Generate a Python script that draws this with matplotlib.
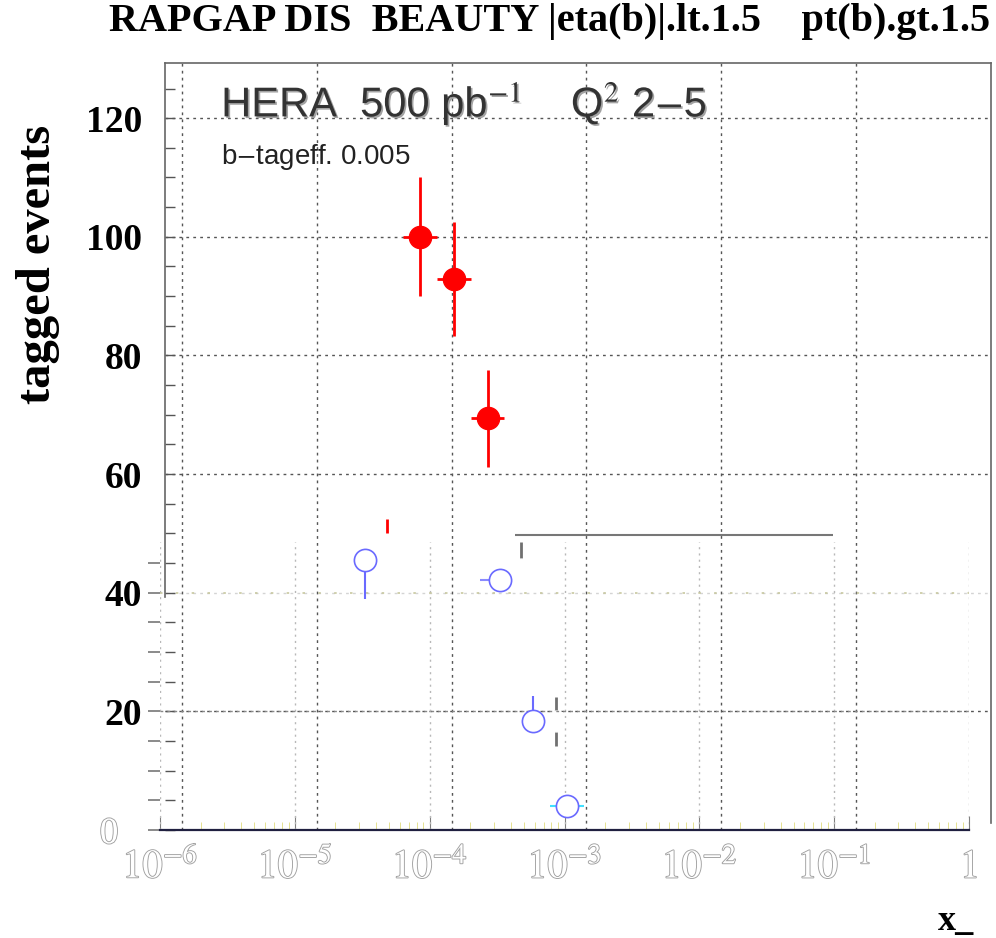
import numpy as np
import matplotlib.pyplot as plt
from matplotlib import patheffects as pe

# tagged events, main sample (filled red)
red_x = [5.83e-5, 1.04e-4, 1.85e-4]
red_y = [100.0, 92.9, 69.4]
red_err = [10.0, 9.6, 8.2]
red_tail_x = [3.32e-5]
red_tail_lo = [50.0]
red_tail_hi = [52.4]

# second sample (open blue)
blue_x = [3.32e-5, 3.33e-4, 5.85e-4, 1.04e-3]
blue_y = [45.6, 42.2, 18.3, 4.1]
blue_err_lo = [6.6, 0.0, 0.0, 0.0]
blue_err_hi = [0.0, 0.0, 4.3, 0.0]

# leftover gray error bars
gray_x = [3.27e-4, 5.95e-4]
gray_y = [44.0, 18.3]
gray_err_lo = [0.0, 4.1]
gray_err_hi = [4.6, 4.1]
gray_line_y = 49.7
gray_line_x = [4.3e-4, 9.8e-2]

xtick_vals = [1e-6, 1e-5, 1e-4, 1e-3, 1e-2, 1e-1, 1]
xtick_labels = ['$10^{-6}$', '$10^{-5}$', '$10^{-4}$', '$10^{-3}$',
                '$10^{-2}$', '$10^{-1}$', '$1$']
ytick_vals = [20, 40, 60, 80, 100, 120]

YMAX = 129.3
SERIF = ['Liberation Serif', 'DejaVu Serif']
plt.rcParams['mathtext.fontset'] = 'stix'
outline = [pe.Stroke(linewidth=1.3, foreground='#a0a0a0'), pe.Normal()]

fig = plt.figure(figsize=(9.96, 9.38), dpi=100)

# ---- main frame -------------------------------------------------------
ax = fig.add_axes([165/996, 108/938, 826/996, 767/938])
ax.set_xscale('log')
ax.set_xlim(10**-6.126, 1)
ax.set_ylim(0, YMAX)
ax.set_xticks(xtick_vals[:-1])
ax.set_xticklabels([])
ax.xaxis.set_minor_locator(plt.NullLocator())
ax.tick_params(axis='x', length=0)
ax.set_yticks(ytick_vals)
ax.set_yticks(np.arange(0, 130, 5), minor=True)
ax.tick_params(axis='y', which='both', direction='in', length=7, width=1,
               color='#555555', pad=16.5)
for lab in ax.get_yticklabels():
    lab.set_fontfamily(SERIF)
    lab.set_fontweight('bold')
    lab.set_fontsize(27)

ax.grid(True, which='major', color='#555555', linestyle=(0, (2, 3)), linewidth=1)
ax.yaxis.get_gridlines()[1].set_alpha(0.25)
ax.spines['bottom'].set_visible(False)
for s in ['left', 'top', 'right']:
    ax.spines[s].set_color('#666666')
    ax.spines[s].set_linewidth(1.2)
ax.spines['left'].set_bounds(39.3, YMAX)
ax.spines['right'].set_bounds(1.2, YMAX)

ax.set_ylabel('tagged events', fontfamily=SERIF, fontweight='bold', fontsize=35)
ax.yaxis.set_label_coords(-0.127, 0.737)

rx = np.array(red_x)
dx = 0.124
ax.errorbar(rx, red_y, yerr=red_err,
            xerr=[rx - rx * 10**-dx, rx * 10**dx - rx],
            fmt='o', color='#ff0000', ms=16, elinewidth=2, capsize=0, zorder=5)
ax.vlines(red_tail_x, red_tail_lo, red_tail_hi, color='#ff0000', lw=2)

ax.errorbar(gray_x, gray_y, yerr=[gray_err_lo, gray_err_hi], fmt='o',
            ms=15, mfc='white', mec='white', ecolor='#707070',
            elinewidth=2, capsize=0, zorder=3)

shadow = [pe.SimplePatchShadow(offset=(1.2, -1.2), shadow_rgbFace='#999999', alpha=0.9),
          pe.Normal()]
ax.text(0.068, 0.947, 'HERA  500 pb$^{-1}$    Q$^{2}$ 2$-$5', transform=ax.transAxes,
        fontsize=30, color='#333333', va='center', ha='left',
        family='Liberation Sans', path_effects=shadow)
ax.text(0.068, 0.877, 'b$-$tageff. 0.005', transform=ax.transAxes,
        fontsize=20, color='#222222', va='center', ha='left', family='Liberation Sans')

# ---- overlaid second frame --------------------------------------------
ax2 = fig.add_axes([160/996, 108/938, 809/996, 767/938], facecolor='none')
ax2.set_xscale('log')
ax2.set_xlim(1e-6, 1)
ax2.set_ylim(0, YMAX)
for s in ['left', 'top', 'right']:
    ax2.spines[s].set_visible(False)
ax2.spines['bottom'].set_color('#202040')
ax2.spines['bottom'].set_linewidth(1.6)

ax2.set_xticks(xtick_vals)
ax2.set_xticklabels(xtick_labels)
ax2.tick_params(axis='x', which='major', direction='in', length=10, color='#808080', pad=12)
ax2.tick_params(axis='x', which='minor', direction='in', length=6, color='#e0dc80')
for lab in ax2.get_xticklabels():
    lab.set_fontsize(29)
    lab.set_color('white')
    lab.set_path_effects(outline)

ax2.set_yticks([0, 20, 40])
ax2.set_yticks(np.arange(0, 50, 5), minor=True)
ax2.set_yticklabels(['0', '', ''])
ax2.tick_params(axis='y', which='both', direction='out', length=9, color='#777777',
                width=1.2, pad=21)
for lab in ax2.get_yticklabels():
    lab.set_fontfamily(SERIF)
    lab.set_fontsize(27)
    lab.set_color('white')
    lab.set_path_effects(outline)

ax2.vlines(xtick_vals, 0, 48.5, colors='#b8b8b8', linestyles=(0, (1.5, 3)), lw=1)
ax2.axhline(40, color='#c8c8a0', linestyle=(0, (1.5, 8)), lw=1.2)
ax2.axhline(20, color='#888888', linestyle=(0, (2, 3)), lw=1)
ax2.hlines(gray_line_y, gray_line_x[0], gray_line_x[1], colors='#777777', lw=1.5)

bx = np.array(blue_x)
ax2.errorbar(bx, blue_y, yerr=[blue_err_lo, blue_err_hi], fmt='o', ms=16,
             mfc='white', mec='#6a6aff', mew=1.2, ecolor='#6a6aff',
             elinewidth=1.5, capsize=0, zorder=4)
ax2.errorbar(bx[1:2], blue_y[1:2], xerr=[[bx[1] - bx[1] * 10**-0.148], [0]],
             fmt='none', ecolor='#8a8aff', elinewidth=1.5, zorder=3)
ax2.errorbar(bx[3:], blue_y[3:],
             xerr=[bx[3:] - bx[3:] * 10**-0.126, bx[3:] * 10**0.126 - bx[3:]],
             fmt='none', ecolor='#40e0ff', elinewidth=1.5, zorder=3)

ax2.set_xlabel('x_', fontfamily=SERIF, fontweight='bold', fontsize=26)
ax2.xaxis.set_label_coords(0.984, -0.098)

fig.text(990/996, 1 - 22/938, 'RAPGAP DIS  BEAUTY |eta(b)|.lt.1.5    pt(b).gt.1.5',
         ha='right', va='center', fontfamily=SERIF, fontweight='bold', fontsize=29)

fig.savefig('out.png', dpi=100)
